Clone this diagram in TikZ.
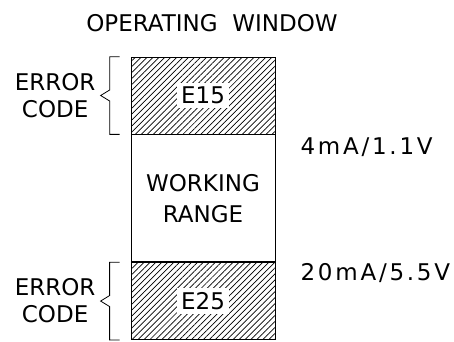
\documentclass[tikz,border=0pt]{standalone}
\usepackage{fontspec}
\setmainfont{DejaVu Sans}
\newfontfamily\widefont[LetterSpace=12]{DejaVu Sans}
\usetikzlibrary{positioning,calc,patterns.meta}
\tikzset{
	lbl/.style={font=\fontsize{23}{27}\selectfont, align=center, inner sep=2pt},
	numlbl/.style={font=\fontsize{23}{27}\selectfont\widefont, inner sep=0pt, anchor=west},
	errbox/.style={draw, line width=0.8pt, minimum width=144pt, minimum height=77pt,
		pattern={Lines[angle=45, distance=4.2pt, line width=0.7pt]}},
	workbox/.style={draw, line width=0.8pt, minimum width=144pt, minimum height=127pt,
		align=center, font=\fontsize{23}{31}\selectfont},
	codetag/.style={fill=white, inner xsep=4pt, inner ysep=4pt, font=\fontsize{23}{27}\selectfont},
	brk/.style={line width=0.8pt}
}
\begin{document}
\begin{tikzpicture}[x=1pt, y=-1pt]
	\useasboundingbox (0,0) rectangle (454,341);
	\node[lbl] (title) at (212,23) {OPERATING\ \ WINDOW};
	\node[errbox] (top) at (203,95.5) {};
	\node[workbox, below=0pt of top] (work) {WORKING\\RANGE};
	\node[errbox, below=0pt of work] (bot) {};
	\node[codetag] (e15) at (top) {E15};
	\node[codetag] (e25) at (bot) {E25};
	% brackets on the left
	\foreach \b in {top,bot} {
		\draw[brk] ($(\b.north west)+(-11,0)$) -- ++(-10,0)
			-- ($(\b.west)+(-21,-5.5)$) -- ($(\b.west)+(-30,0)$)
			-- ($(\b.west)+(-21,5.5)$) -- ($(\b.south west)+(-21,0)$) -- ++(10,0);
	}
	\node[lbl, left=33pt of top] (errt) {ERROR\\CODE};
	\node[lbl, left=33pt of bot] (errb) {ERROR\\CODE};
	\node[numlbl] (low) at ($(top.south east)+(25,13)$) {4mA/1.1V};
	\node[numlbl] (high) at ($(bot.north east)+(25,11)$) {20mA/5.5V};
\end{tikzpicture}
\end{document}
